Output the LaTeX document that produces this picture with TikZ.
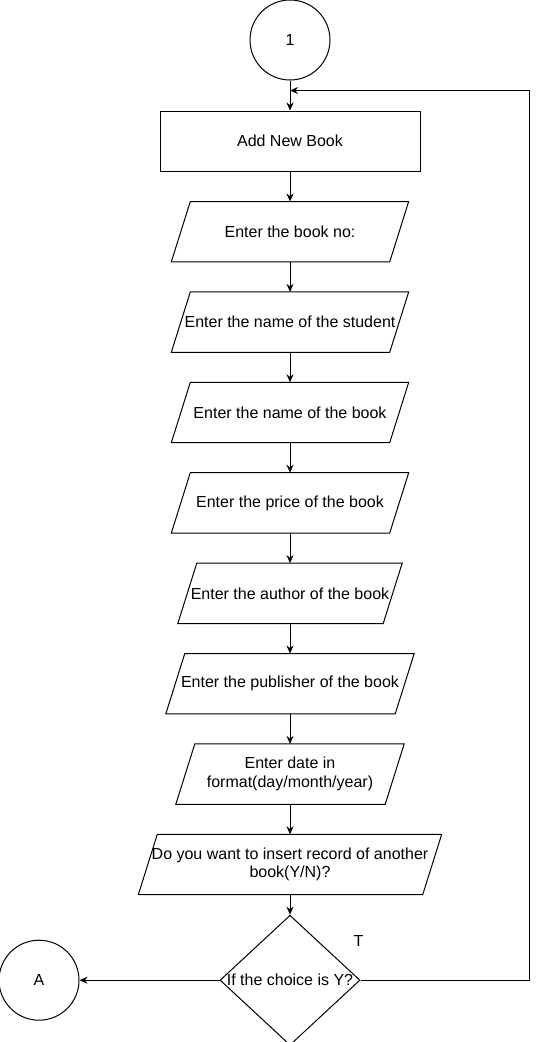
\documentclass[tikz,border=0pt]{standalone}
\usepackage{fontspec}
\setmainfont{Liberation Sans}
\usetikzlibrary{arrows.meta,positioning,shapes.geometric}

\begin{document}
\begin{tikzpicture}[
    x=1pt, y=1pt,
    node distance=30pt and 30pt,
    font=\fontsize{16}{18.5}\selectfont,
    conn/.style={circle, draw, line width=1pt, minimum size=80pt, inner sep=0pt},
    proc/.style={rectangle, draw, line width=1pt, minimum width=260pt, minimum height=60pt},
    io/.style={rectangle, minimum width=#1, minimum height=60pt, inner sep=0pt, align=center,
        append after command={\pgfextra{\draw[line width=1pt]
            ([xshift=9.5pt]\tikzlastnode.north west) -- ([xshift=9.5pt]\tikzlastnode.north east)
            -- ([xshift=-9.5pt]\tikzlastnode.south east) -- ([xshift=-9.5pt]\tikzlastnode.south west) -- cycle;}}},
    io/.default=218pt,
    decision/.style={diamond, draw, line width=1pt, minimum width=140pt, minimum height=130pt, inner sep=0pt},
    arrow/.style={-{Stealth[length=8pt, width=7pt]}, line width=1pt}
]
\useasboundingbox (0,0) rectangle (541,-1042);
\node[conn] (start) at (290,-40) {1};
\node[proc, below=of start] (addbook) {Add New Book};
\node[io, below=of addbook] (bookno) {Enter the book no:};
\node[io, below=of bookno] (student) {Enter the name of the student};
\node[io, below=of student] (bookname) {Enter the name of the book};
\node[io, below=of bookname] (price) {Enter the price of the book};
\node[io=205pt, below=of price] (author) {Enter the author of the book};
\node[io=229pt, below=of author] (publisher) {Enter the publisher of the book};
\node[io=209pt, below=of publisher] (date) {Enter date in\\format(day/month/year)};
\node[io=284pt, below=of date] (again) {Do you want to insert record of another\\book(Y/N)?};
\node[decision, below=20pt of again] (choice) {\makebox[0pt]{If the choice is Y?}};
\node[conn, left=140pt of choice] (endA) {A};
\node[above=30pt of choice.east, xshift=-2pt] (tmark) {T};
\coordinate[below=10pt of start] (join);
\coordinate[right=169pt of choice] (loop);
\draw[arrow] (start) -- (addbook);
\draw[arrow] (addbook) -- (bookno);
\draw[arrow] (bookno) -- (student);
\draw[arrow] (student) -- (bookname);
\draw[arrow] (bookname) -- (price);
\draw[arrow] (price) -- (author);
\draw[arrow] (author) -- (publisher);
\draw[arrow] (publisher) -- (date);
\draw[arrow] (date) -- (again);
\draw[arrow] (again) -- (choice);
\draw[arrow] (choice) -- (endA);
\draw[arrow] (choice) -- (loop) |- (join);
\end{tikzpicture}
\end{document}
